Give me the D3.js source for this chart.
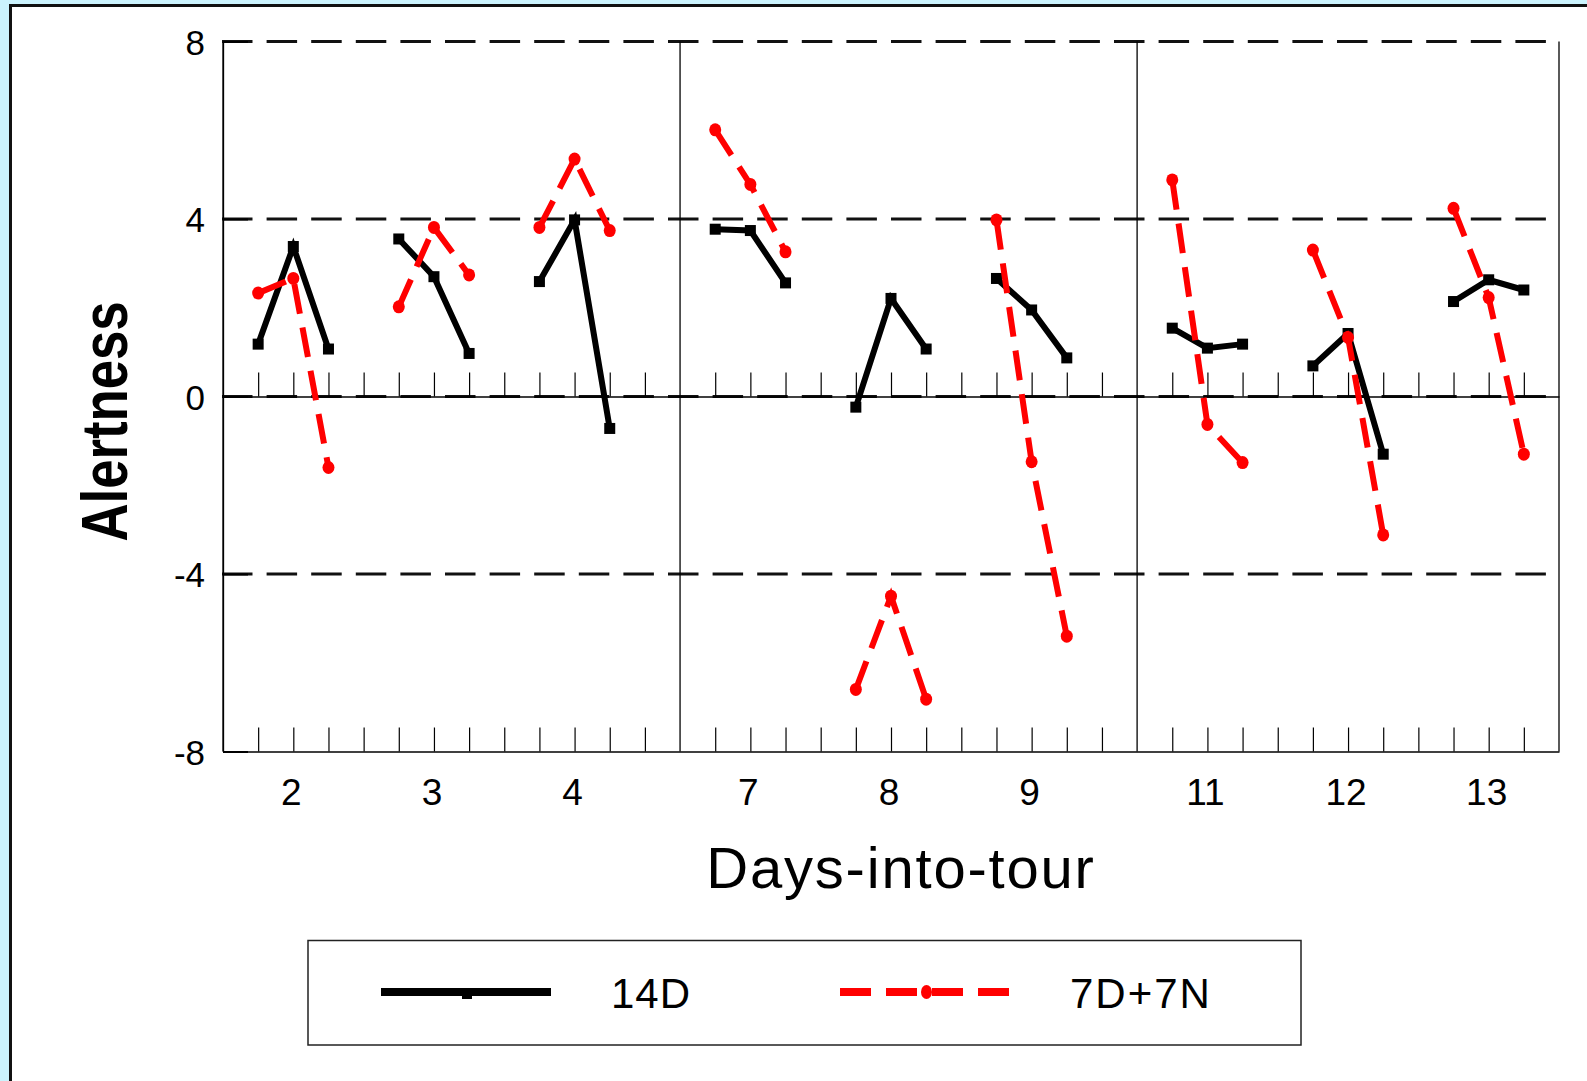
<!DOCTYPE html>
<html>
<head>
<meta charset="utf-8">
<script src="https://cdn.jsdelivr.net/npm/d3@7"></script>
<style>
    body { margin: 0; background: #cbf3fd; }
    svg { display: block; }
    text { font-family: 'Liberation Sans', Arial, sans-serif; fill: #000; }
</style>
</head>
<body>
<svg id="chart" width="1587" height="1081"></svg>
<script>
// days shown on the axis, three readings per day
const days = [2, 3, 4, 7, 8, 9, 11, 12, 13]
const yTicks = [8, 4, 0, -4, -8]
const gridValues = [8, 4, 0, -4]

const series14D = [
    [1.18, 3.38, 1.07],
    [3.55, 2.70, 0.97],
    [2.59, 3.98, -0.72],
    [3.77, 3.74, 2.56],
    [-0.24, 2.21, 1.07],
    [2.66, 1.95, 0.87],
    [1.54, 1.09, 1.18],
    [0.69, 1.42, -1.30],
    [2.14, 2.63, 2.40]
]
const series7D7N = [
    [2.33, 2.66, -1.60],
    [2.02, 3.81, 2.74],
    [3.81, 5.35, 3.74],
    [6.01, 4.78, 3.26],
    [-6.60, -4.50, -6.82],
    [3.98, -1.47, -5.40],
    [4.88, -0.63, -1.49],
    [3.30, 1.33, -3.12],
    [4.24, 2.23, -1.30]
]
const legendLabels = ['14D', '7D+7N']

// category slots: 3 days per panel, 13 slots per panel, last panel 12
const slotOf = (dayIdx, j) => 13 * Math.floor(dayIdx / 3) + 1 + 4 * (dayIdx % 3) + j
const panelBorders = [0, 13, 26, 38]

const svg = d3.select('#chart')

// white panel with a dark frame
svg.append('rect')
    .attr('x', 10.5).attr('y', 5.5)
    .attr('width', 1600).attr('height', 1100)
    .attr('fill', '#fff')
    .attr('stroke', '#111')
    .attr('stroke-width', 3)

const x = d3.scaleLinear().domain([0, 38]).range([223, 1559])
const y = d3.scaleLinear().domain([-8, 8]).range([751.5, 41.5])

const g = svg.append('g')

// dashed gridlines
g.selectAll('.grid')
    .data(gridValues)
    .enter()
    .append('line')
    .attr('x1', x(0) - 1).attr('x2', x(38))
    .attr('y1', d => y(d)).attr('y2', d => y(d))
    .attr('stroke', '#111')
    .attr('stroke-width', 3)
    .attr('stroke-dasharray', '30.5 14.1')

// panel separators
g.selectAll('.sep')
    .data(panelBorders)
    .enter()
    .append('line')
    .attr('x1', d => x(d)).attr('x2', d => x(d))
    .attr('y1', y(8)).attr('y2', y(-8))
    .attr('stroke', '#000')
    .attr('stroke-width', 1.3)

// x axes at 0 and at the bottom, ticks pointing up
const slots = d3.range(1, 38).filter(d => !panelBorders.includes(d))
;[0, -8].forEach(v => {
    const ax = g.append('g')
        .attr('transform', `translate(0,${y(v)})`)
        .call(d3.axisTop(x).tickValues(slots).tickSize(24).tickSizeOuter(0).tickFormat(''))
    ax.select('.domain').attr('stroke', '#000').attr('stroke-width', 1.3)
    ax.selectAll('.tick line').attr('stroke', '#000').attr('stroke-width', 1.2)
})

// y axis, ticks inside
const yAxis = g.append('g')
    .attr('transform', `translate(${x(0)},0)`)
    .call(d3.axisLeft(y).tickValues(yTicks).tickSizeInner(-25).tickSizeOuter(0).tickPadding(18)
        .tickFormat(d => String(d)))
yAxis.select('.domain').attr('stroke', '#000').attr('stroke-width', 1.3)
yAxis.selectAll('.tick line').attr('stroke', '#000').attr('stroke-width', 2)
yAxis.selectAll('.tick text')
    .attr('font-size', 35)
    .attr('dy', '0.36em')
    .attr('font-family', "'Liberation Sans', Arial, sans-serif")
    .attr('fill', '#000')

// day labels
g.selectAll('.daylabel')
    .data(days)
    .enter()
    .append('text')
    .attr('x', (d, i) => x(slotOf(i, 1)) - 2)
    .attr('y', 805)
    .attr('text-anchor', 'middle')
    .attr('font-size', 37)
    .text(d => d)

// axis titles
svg.append('text')
    .attr('x', 901)
    .attr('y', 888)
    .attr('text-anchor', 'middle')
    .attr('font-size', 58)
    .attr('letter-spacing', 1.8)
    .text('Days-into-tour')

svg.append('text')
    .attr('transform', 'translate(127,421.5) rotate(-90)')
    .attr('text-anchor', 'middle')
    .attr('font-size', 65)
    .attr('font-weight', 'bold')
    .attr('textLength', 240)
    .attr('lengthAdjust', 'spacingAndGlyphs')
    .text('Alertness')

const line = d3.line()
    .x(d => x(d.slot))
    .y(d => y(d.value))

const toPoints = (vals, i) => vals.map((v, j) => ({ slot: slotOf(i, j), value: v }))

// 14D series
const black = g.append('g')
series14D.forEach((vals, i) => {
    const pts = toPoints(vals, i)
    black.append('path')
        .attr('d', line(pts))
        .attr('fill', 'none')
        .attr('stroke', '#000')
        .attr('stroke-width', 6)
    black.selectAll(null)
        .data(pts)
        .enter()
        .append('rect')
        .attr('x', d => x(d.slot) - 5.5)
        .attr('y', d => y(d.value) - 5.5)
        .attr('width', 11).attr('height', 11)
        .attr('fill', '#000')
})

// 7D+7N series
const red = g.append('g')
series7D7N.forEach((vals, i) => {
    const pts = toPoints(vals, i)
    red.append('path')
        .attr('d', line(pts))
        .attr('fill', 'none')
        .attr('stroke', '#ff0000')
        .attr('stroke-width', 6)
        .attr('stroke-dasharray', '30 14')
    red.selectAll(null)
        .data(pts)
        .enter()
        .append('ellipse')
        .attr('cx', d => x(d.slot))
        .attr('cy', d => y(d.value))
        .attr('rx', 6).attr('ry', 6.5)
        .attr('fill', '#ff0000')
})

// legend
const lg = svg.append('g')
lg.append('rect')
    .attr('x', 308).attr('y', 940.5)
    .attr('width', 993).attr('height', 104.5)
    .attr('fill', '#fff')
    .attr('stroke', '#222')
    .attr('stroke-width', 1.5)

lg.append('line')
    .attr('x1', 381).attr('x2', 551)
    .attr('y1', 992).attr('y2', 992)
    .attr('stroke', '#000').attr('stroke-width', 8)
lg.append('rect')
    .attr('x', 462).attr('y', 989)
    .attr('width', 10).attr('height', 10)
    .attr('fill', '#000')

lg.append('line')
    .attr('x1', 840).attr('x2', 1011)
    .attr('y1', 992).attr('y2', 992)
    .attr('stroke', '#ff0000').attr('stroke-width', 8)
    .attr('stroke-dasharray', '31 15')
lg.append('ellipse')
    .attr('cx', 926.5).attr('cy', 992)
    .attr('rx', 5.5).attr('ry', 7)
    .attr('fill', '#ff0000')

lg.selectAll('.lt')
    .data(legendLabels)
    .enter()
    .append('text')
    .attr('x', (d, i) => [611, 1070][i])
    .attr('y', 1008)
    .attr('font-size', 42)
    .attr('letter-spacing', (d, i) => [1, 2][i])
    .text(d => d)
</script>
</body>
</html>
